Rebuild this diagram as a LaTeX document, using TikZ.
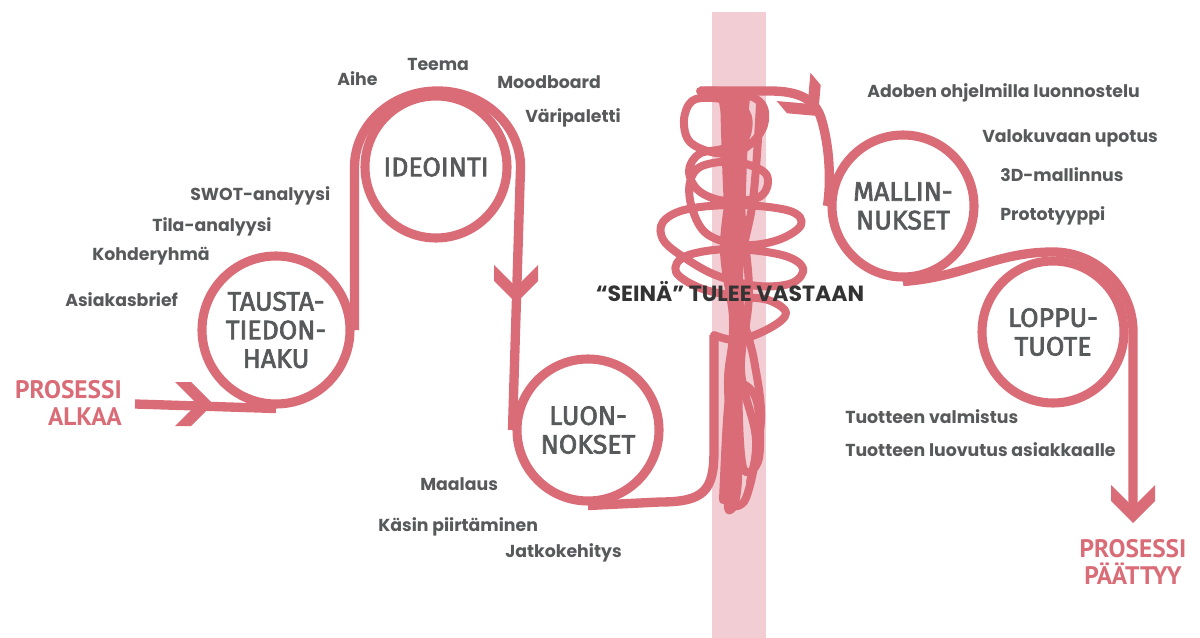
\documentclass[tikz,border=0pt]{standalone}
\usepackage{fontspec}
\setmainfont{Poppins}
\newfontfamily\circfont[FakeBold=2.5]{Fira Sans}
\newfontfamily\capfont{PT Sans}
\definecolor{rose}{HTML}{D96C77}
\definecolor{wallpink}{HTML}{F2CDD3}
\definecolor{ink}{HTML}{58595B}
\definecolor{darkink}{HTML}{333333}
\begin{document}
\begin{tikzpicture}[x=0.75pt,y=-0.75pt,
  flow/.style={draw=rose,line width=7pt},
  scrib/.style={draw=rose,line width=6pt,line cap=round,line join=round},
  stagecirc/.style={circle,draw=rose,line width=6.8pt,minimum size=106.5pt,inner sep=0pt,
    align=center,text=ink,font=\circfont\fontsize{20}{21.5}\selectfont},
  lbl/.style={font=\bfseries\fontsize{13}{15}\selectfont,text=ink,anchor=base west,inner sep=0pt},
  endlbl/.style={font=\capfont\bfseries\fontsize{19}{20.5}\selectfont,text=rose,inner sep=0pt},
  chev/.pic={\fill[rose] (0,0) -- (-22,22) -- (-38,22) -- (-16,0) -- (-38,-22) -- (-22,-22) -- cycle;},
]
\useasboundingbox (0,0) rectangle (1200,638);

% the wall
\fill[wallpink] (712,12) rectangle (766,638);

% stages
\node[stagecirc,minimum size=111pt] (tausta) at (276,330) {TAUSTA-\\TIEDON-\\HAKU};
\node[stagecirc] (ideo) at (436,167) {IDEOINTI};
\node[stagecirc] (luon) at (588,430) {LUON-\\NOKSET};
\node[stagecirc] (mallin) at (903,206) {MALLIN-\\NUKSET};
\node[stagecirc] (loppu) at (1053,332) {LOPPU-\\TUOTE};

% start and end
\coordinate (start) at (135,404);
\coordinate (finish) at (1133,515);
\node[endlbl,align=right,anchor=east] (alkaa) at (122,403) {PROSESSI\\ALKAA};
\node[endlbl,align=center] (paattyy) at (1133,562) {PROSESSI\\PÄÄTTYY};

% the route
\draw[flow] (start) -- (tausta.south);
\draw[flow] (tausta.east) -- (tausta.east |- ideo.center)
  arc[start angle=180,end angle=360,x radius=83,y radius=76] -- (luon.west);
\draw[flow] (luon.south) -- (660,502) .. controls (705,502) and (714,490) .. (714,450) -- (714,335);

% the tangle in front of the wall
\fill[rose] plot[smooth cycle,tension=0.6] coordinates {(722,96) (738,92) (748,100) (746,190) (743,290) (746,340) (740,420) (742,480) (736,510) (724,508) (727,450) (724,380) (729,330) (726,250) (722,160)};
\draw[scrib] plot[smooth,tension=0.6] coordinates {(714,335) (738,340) (770,328) (786,313) (768,300) (735,296) (700,288) (676,272) (686,256) (730,249) (782,255) (803,268) (792,283) (758,286) (718,276) (688,260) (664,241) (663,222) (688,209) (740,205) (790,211) (801,225) (778,240) (742,245) (707,234) (692,208) (690,182) (702,166) (736,162) (766,174) (761,196) (726,201) (699,191) (689,171) (699,154) (722,149) (744,140) (748,117) (735,103) (712,98) (692,101) (684,120) (690,142) (716,153) (742,150) (762,130) (764,108) (750,96) (720,91) (700,91)};
\draw[scrib] plot[smooth,tension=0.6] coordinates {(722,96) (731,170) (724,250) (734,330) (727,420) (723,500)};
\draw[scrib] plot[smooth,tension=0.6] coordinates {(746,98) (740,190) (749,290) (741,370) (756,440) (746,498) (731,506)};
\draw[scrib] plot[smooth,tension=0.6] coordinates {(760,104) (753,200) (738,285) (754,360) (761,420) (750,482)};
\draw[scrib] plot[smooth cycle,tension=0.6] coordinates {(741,385) (757,402) (759,458) (744,470) (739,420)};

% out of the tangle
\draw[flow] (700,91) -- (770,91) .. controls (800,91) and (815,100) .. (821,118)
  .. controls (828,140) and (832,175) .. (mallin.west);
\draw[flow] (mallin.south) .. controls (965,277) and (995,252) .. (1053,252)
  arc[start angle=270,end angle=360,x radius=80,y radius=80] -- (finish);

% arrowheads
\pic at (213,404) {chev};
\pic[rotate=-90] at (516,303) {chev};
\pic[rotate=-50] at (818,116) {chev};
\pic[rotate=-90] at (1133,523) {chev};

% wall caption
\node[font=\bfseries\fontsize{16.5}{18}\selectfont,text=darkink,anchor=base,inner sep=0pt] (seina) at (730,301) {“SEINÄ” TULEE VASTAAN};

% task labels
\node[lbl] (aihe) at (337,86) {Aihe};
\node[lbl] (teema) at (407,71) {Teema};
\node[lbl] (mood) at (497,89) {Moodboard};
\node[lbl] (vari) at (525,123) {Väripaletti};
\node[lbl] (swot) at (190,201) {SWOT-analyysi};
\node[lbl] (tila) at (152,232) {Tila-analyysi};
\node[lbl] (kohde) at (92,261) {Kohderyhmä};
\node[lbl] (brief) at (65,306) {Asiakasbrief};
\node[lbl] (maalaus) at (420,490) {Maalaus};
\node[lbl] (kasin) at (378,531) {Käsin piirtäminen};
\node[lbl] (jatko) at (505,557) {Jatkokehitys};
\node[lbl] (adobe) at (867,98) {Adoben ohjelmilla luonnostelu};
\node[lbl] (valo) at (982,143) {Valokuvaan upotus};
\node[lbl] (malli3d) at (1000,182) {3D-mallinnus};
\node[lbl] (proto) at (1000,221) {Prototyyppi};
\node[lbl] (valmistus) at (845,423) {Tuotteen valmistus};
\node[lbl] (luovutus) at (845,456) {Tuotteen luovutus asiakkaalle};
\end{tikzpicture}
\end{document}
